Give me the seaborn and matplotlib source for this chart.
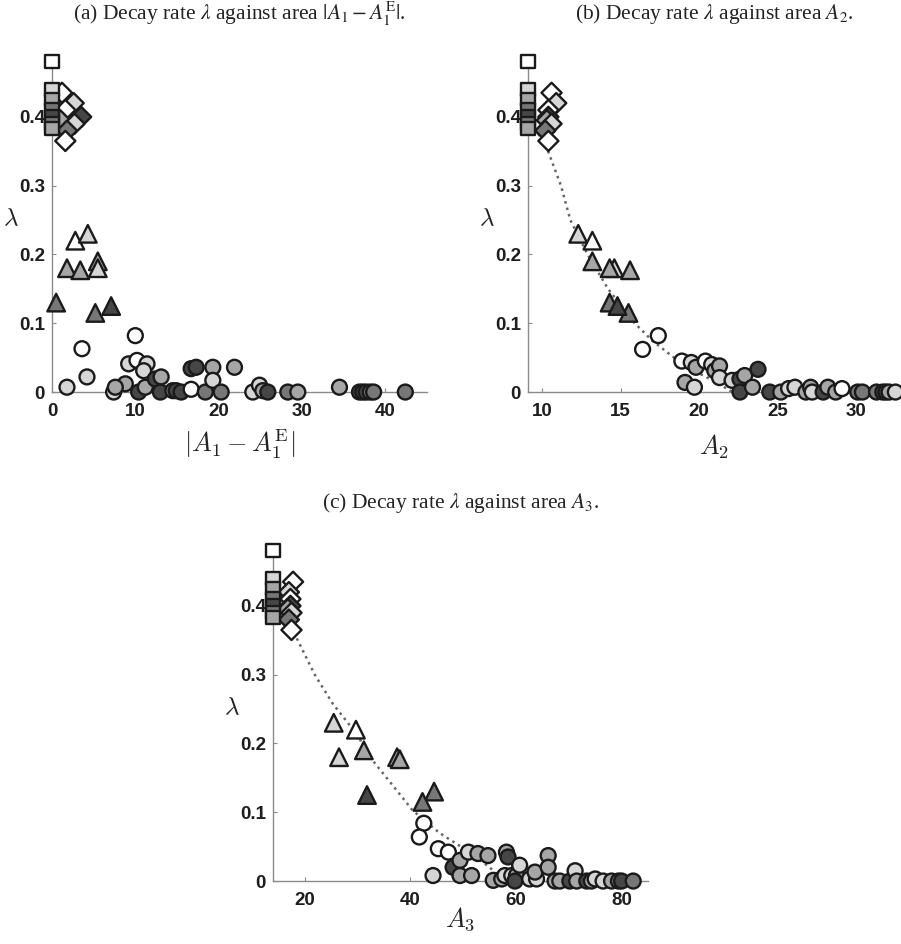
import numpy as np
import pandas as pd
import seaborn as sns
import matplotlib.pyplot as plt

sns.set_theme(style='white')
plt.rcParams['font.family'] = ['Liberation Sans', 'DejaVu Sans']

# shade group -> fill colour
shades = {0: '#ffffff', 1: '#d6d6d6', 2: '#a6a6a6', 3: '#777777', 4: '#464646'}

# squares (same lambda in every panel)
sq_lam = [0.48, 0.44, 0.425, 0.41, 0.40, 0.39, 0.383]
sq_grp = [0, 1, 2, 3, 4, 3, 2]
sq_xa = [0, 0, 0, 0, 0, 0, 0]
sq_xb = [9.1, 9.1, 9.1, 9.1, 9.1, 9.1, 9.1]
sq_xc = [14.0, 14.0, 14.0, 14.0, 14.0, 14.0, 14.0]

# diamonds
dm_lam = [0.435, 0.42, 0.41, 0.40, 0.395, 0.39, 0.38, 0.365]
dm_grp = [0, 1, 0, 4, 2, 1, 3, 0]
dm_xa = [1.2, 2.6, 1.6, 3.5, 1.0, 2.7, 1.8, 1.6]
dm_xb = [10.6, 10.9, 10.4, 10.4, 10.3, 10.6, 10.2, 10.4]
dm_xc = [17.8, 17.0, 17.3, 17.3, 16.8, 17.5, 17.0, 17.5]

# triangles
tr_lam = [0.22, 0.23, 0.19, 0.18, 0.18, 0.177, 0.13, 0.115, 0.125]
tr_grp = [0, 1, 2, 1, 2, 2, 3, 3, 4]
tr_xa = [2.8, 4.3, 5.5, 5.5, 1.8, 3.4, 0.5, 5.2, 7.1]
tr_xb = [13.2, 12.3, 13.2, 14.6, 14.3, 15.6, 14.3, 15.5, 14.8]
tr_xc = [29.7, 25.5, 31.2, 26.5, 37.5, 38.0, 44.5, 42.3, 31.8]

# circles, panel (a)
ci_xa = [3.6, 10.0, 1.8, 4.2, 9.2, 10.2, 11.4, 11.0, 8.8, 7.4, 7.6, 10.4, 11.2,
         12.4, 13.1, 13.0, 14.5, 14.9, 15.5, 16.7, 16.7, 17.3, 18.4, 19.3, 19.3,
         20.3, 21.9, 24.1, 24.9, 25.3, 25.9, 28.3, 29.5, 34.5, 36.9, 37.3, 37.7,
         38.2, 38.6, 42.4]
ci_la = [0.063, 0.082, 0.007, 0.022, 0.041, 0.046, 0.041, 0.031, 0.012, 0.0,
         0.007, 0.0, 0.007, 0.019, 0.022, 0.0, 0.002, 0.002, 0.0, 0.004, 0.034,
         0.036, 0.0, 0.036, 0.017, 0.0, 0.036, 0.0, 0.01, 0.002, 0.0, 0.0, 0.0,
         0.007, 0.0, 0.0, 0.0, 0.0, 0.0, 0.0]
ci_ga = [0, 0, 1, 1, 1, 0, 1, 1, 2, 1, 2, 4, 2, 4, 2, 4, 3, 4, 4, 0, 4, 4, 3, 2,
         1, 3, 2, 1, 1, 2, 4, 3, 2, 2, 4, 4, 4, 3, 3, 3]

# circles, panel (b)
ci_xb = [16.4, 17.4, 18.9, 19.1, 19.7, 19.5, 19.8, 20.4, 20.8, 21.0, 21.3, 21.3,
         22.1, 22.6, 22.9, 22.6, 23.4, 23.75, 24.5, 25.2, 25.7, 26.1, 26.8, 27.1,
         27.2, 27.9, 28.2, 28.7, 29.1, 30.1, 30.4, 31.3, 31.7, 31.9, 32.1, 32.5]
ci_lb = [0.062, 0.082, 0.045, 0.014, 0.007, 0.043, 0.036, 0.045, 0.04, 0.031,
         0.038, 0.021, 0.017, 0.019, 0.024, 0.0, 0.007, 0.033, 0.0, 0.0, 0.005,
         0.007, 0.0, 0.007, 0.0, 0.0, 0.007, 0.0, 0.005, 0.0, 0.0, 0.0, 0.0, 0.0,
         0.0, 0.0]
ci_gb = [0, 0, 0, 2, 1, 1, 2, 0, 1, 2, 2, 1, 1, 4, 2, 4, 2, 4, 4, 2, 1, 1, 2, 2,
         1, 4, 2, 2, 0, 3, 3, 3, 4, 4, 2, 1]

# circles, panel (c)
ci_xc = [42.55, 41.7, 45.3, 47.2, 44.3, 48.1, 49.4, 49.4, 51.6, 51.0, 52.8, 54.7,
         55.7, 57.3, 57.9, 58.2, 58.5, 59.2, 60.1, 59.8, 60.7, 62.6, 63.9, 63.6,
         66.1, 66.1, 67.4, 68.3, 70.2, 71.2, 71.5, 73.4, 74.3, 75.0, 76.5, 78.1,
         79.4, 80.0, 82.2]
ci_lc = [0.084, 0.064, 0.047, 0.042, 0.008, 0.02, 0.03, 0.008, 0.008, 0.042, 0.04,
         0.037, 0.001, 0.003, 0.008, 0.042, 0.035, 0.008, 0.008, 0.0, 0.023, 0.003,
         0.003, 0.013, 0.037, 0.02, 0.0, 0.0, 0.0, 0.015, 0.0, 0.0, 0.0, 0.003,
         0.0, 0.0, 0.0, 0.0, 0.0]
ci_gc = [0, 0, 0, 0, 1, 4, 2, 2, 2, 1, 2, 2, 2, 2, 1, 2, 4, 1, 2, 4, 1, 1, 1, 2,
         2, 2, 2, 2, 4, 1, 2, 4, 2, 1, 1, 2, 3, 4, 3]

# dotted fit curves
fit_xb = [9.1, 10.3, 11.2, 11.8, 12.9, 14.2, 15.9, 17.0, 18.4, 19.5, 20.6, 21.4, 22.1]
fit_lb = [0.40, 0.355, 0.30, 0.25, 0.20, 0.15, 0.10, 0.075, 0.05, 0.033, 0.02, 0.01, 0.0]
fit_xc = [17.3, 18.1, 21.9, 25.3, 29.8, 32.9, 37.4, 40.4, 45.5, 50.6, 55.0, 57.0]
fit_lc = [0.38, 0.359, 0.30, 0.258, 0.214, 0.175, 0.132, 0.103, 0.07, 0.045, 0.02, 0.005]


def draw(ax, sqx, dmx, trx, cix, cil, cig, fitx, fitl):
    if fitx is not None:
        sns.lineplot(x=fitx, y=fitl, ax=ax, color='#666666', linestyle=':',
                     linewidth=1.8, sort=False, zorder=1)
    kw = dict(ax=ax, hue_order=list(shades), palette=shades, legend=False,
              edgecolor='#1a1a1a', linewidth=1.7, clip_on=False, zorder=3)
    sns.scatterplot(x=cix, y=cil, hue=cig, marker='o', s=115, **kw)
    sns.scatterplot(x=trx, y=tr_lam, hue=tr_grp, marker='^', s=160, **kw)
    sns.scatterplot(x=dmx, y=dm_lam, hue=dm_grp, marker='D', s=105, **kw)
    sns.scatterplot(x=sqx, y=sq_lam, hue=sq_grp, marker='s', s=90, **kw)


fig = plt.figure(figsize=(9.01, 9.44), dpi=100)
ax_a = fig.add_axes([0.0577, 0.5847, 0.4162, 0.3549])
ax_b = fig.add_axes([0.5860, 0.5847, 0.4130, 0.3549])
ax_c = fig.add_axes([0.3030, 0.0667, 0.4162, 0.3549])

draw(ax_a, sq_xa, dm_xa, tr_xa, ci_xa, ci_la, ci_ga, None, None)
draw(ax_b, sq_xb, dm_xb, tr_xb, ci_xb, ci_lb, ci_gb, fit_xb, fit_lb)
draw(ax_c, sq_xc, dm_xc, tr_xc, ci_xc, ci_lc, ci_gc, fit_xc, fit_lc)

panels = [
    (ax_a, (0, 45), [0, 10, 20, 30, 40], r'$|A_1-A_1^{\mathrm{E}}|$', -0.105,
     r'(a) Decay rate $\lambda$ against area $|A_1 - A_1^{\mathrm{E}}|$.'),
    (ax_b, (9.1, 32.8), [10, 15, 20, 25, 30], r'$A_2$', -0.122,
     r'(b) Decay rate $\lambda$ against area $A_2$.'),
    (ax_c, (14, 85), [20, 40, 60, 80], r'$A_3$', -0.072,
     r'(c) Decay rate $\lambda$ against area $A_3$.'),
]

for ax, xlim, xt, xlab, xly, title in panels:
    ax.set_xlim(*xlim)
    ax.set_ylim(0, 0.487)
    ax.set_xticks(xt)
    ax.set_xticklabels([str(t) for t in xt])
    ax.set_yticks([0, 0.1, 0.2, 0.3, 0.4])
    ax.set_yticklabels(['0', '0.1', '0.2', '0.3', '0.4'])
    sns.despine(ax=ax)
    for s in ['left', 'bottom']:
        ax.spines[s].set_color('#8a8a8a')
        ax.spines[s].set_linewidth(1.0)
    ax.tick_params(direction='in', length=3, width=0.8, color='#8a8a8a',
                   labelsize=13.5, labelcolor='#1e1e1e', bottom=True, left=True)
    ax.tick_params(axis='x', pad=8)
    ax.tick_params(axis='y', pad=5)
    for lab in ax.get_xticklabels() + ax.get_yticklabels():
        lab.set_fontweight('bold')
    ax.set_xlabel(xlab, fontsize=19, math_fontfamily='cm', color='#222222', va='top')
    ax.xaxis.set_label_coords(0.5, xly)
    ax.set_ylabel(r'$\lambda$', fontsize=18, math_fontfamily='cm', color='#222222',
                  rotation=0, ha='center', va='center')
    ax.yaxis.set_label_coords(-0.11, 0.52)
    ax.text(0.5, 1.128, title, transform=ax.transAxes, ha='center', va='center',
            fontsize=15.5, family='Liberation Serif', math_fontfamily='stix',
            color='#222222')

fig.savefig('out.png', dpi=100)
